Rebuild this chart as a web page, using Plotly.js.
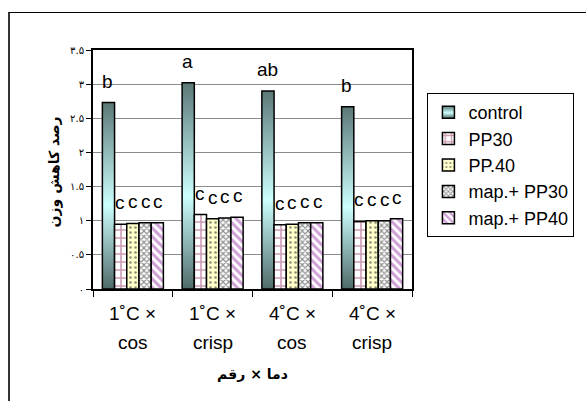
<!DOCTYPE html>
<html><head><meta charset="utf-8">
<script src="https://cdn.plot.ly/plotly-3.0.1.min.js"></script>
<style>
html,body{margin:0;padding:0;background:#fff;}
#wrap{position:relative;width:586px;height:401px;}
#chart{width:586px;height:401px;}
#frame{position:absolute;left:8px;top:12px;width:600px;height:420px;border-top:1px solid #000;border-left:2px solid #333;pointer-events:none;}
</style></head><body>
<div id="wrap"><div id="chart"></div><div id="frame"></div></div>
<script>
// ---- data ----
const categories = ['1˚C × cos', '1˚C × crisp', '4˚C × cos', '4˚C × crisp'];
const tickLine1 = ['1˚C ×', '1˚C ×', '4˚C ×', '4˚C ×'];
const tickLine2 = ['cos', 'crisp', 'cos', 'crisp'];
const seriesNames = ['control', 'PP30', 'PP.40', 'map.+ PP30', 'map.+ PP40'];
const control   = [2.73, 3.02, 2.90, 2.67];
const pp30      = [0.95, 1.09, 0.94, 0.99];
const pp40      = [0.96, 1.03, 0.95, 1.00];
const mapPP30   = [0.97, 1.04, 0.97, 1.00];
const mapPP40   = [0.97, 1.05, 0.97, 1.03];
const lettersControl = ['b', 'a', 'ab', 'b'];
const lettersOther   = ['c', 'c', 'c', 'c'];
const yTickVals = [0, 0.5, 1, 1.5, 2, 2.5, 3, 3.5];
const yTickText = ['۰', '۰.۵', '۱', '۱.۵', '۲', '۲.۵', '۳', '۳.۵'];
const xTitle = 'دما × رقم';
const yTitle = 'رصد كاهش وزن';

const values = [control, pp30, pp40, mapPP30, mapPP40];
const letters = [lettersControl, lettersOther, lettersOther, lettersOther, lettersOther];

const styles = [
  {color: '#9fcfcf', pattern: {shape: ''}},
  {color: '#ffffff', pattern: {shape: '+', fgcolor: '#993366', bgcolor: '#ffffff', size: 8, solidity: 0.35, fillmode: 'overlay'}},
  {color: '#ffffcc', pattern: {shape: '.', fgcolor: '#222222', bgcolor: '#ffffcc', size: 5, solidity: 0.22, fillmode: 'overlay'}},
  {color: '#ffffff', pattern: {shape: 'x', fgcolor: '#222222', bgcolor: '#ffffff', size: 4, solidity: 0.5, fillmode: 'overlay'}},
  {color: '#ffffff', pattern: {shape: '\\', fgcolor: '#a040b0', bgcolor: '#ffffff', size: 6, solidity: 0.5, fillmode: 'overlay'}}
];

const traces = values.map((v, i) => ({
  type: 'bar', name: seriesNames[i], x: categories, y: v,
  marker: {color: styles[i].color, pattern: styles[i].pattern, line: {color: '#000', width: 1.5}},
  hoverinfo: 'skip'
}));

const L = 93, R = 424, T = 50, B = 289;
const W = 586, H = 401;
const plotW = R - L, plotH = B - T;
const bargap = 0.235;
const barPx = (plotW / categories.length) * (1 - bargap) / values.length;
const txtFont = {family: 'Arial, Liberation Sans', size: 19, color: '#000'};

const annotations = [];
values.forEach((v, i) => {
  v.forEach((val, j) => {
    annotations.push({x: categories[j], y: val, xref: 'x', yref: 'y', text: letters[i][j],
      showarrow: false, xanchor: 'center', yanchor: 'bottom', xshift: (i - 2) * barPx, yshift: 9, font: txtFont});
  });
});
categories.forEach((c, j) => {
  annotations.push({x: c, y: (B - 313) / plotH, xref: 'x', yref: 'paper', text: tickLine1[j], showarrow: false,
    xanchor: 'center', yanchor: 'middle', font: txtFont});
  annotations.push({x: c, y: (B - 342) / plotH, xref: 'x', yref: 'paper', text: tickLine2[j], showarrow: false,
    xanchor: 'center', yanchor: 'middle', font: txtFont});
});
annotations.push({x: (53 - L) / plotW, y: (B - 172) / plotH, xref: 'paper', yref: 'paper', text: yTitle, textangle: -90,
  showarrow: false, xanchor: 'center', yanchor: 'middle',
  font: {family: 'DejaVu Sans', size: 14, color: '#000', weight: 'bold'}});

const layout = {
  width: W, height: H,
  margin: {l: L, r: W - R, t: T, b: H - B, pad: 0},
  paper_bgcolor: '#fff', plot_bgcolor: '#fff',
  barmode: 'group', bargap: bargap, bargroupgap: 0,
  showlegend: true,
  legend: {x: (440 - L) / plotW, xanchor: 'left', y: (B - 93) / plotH, yanchor: 'top',
    bordercolor: '#000', borderwidth: 1, bgcolor: '#fff',
    font: {family: 'Arial, Liberation Sans', size: 18, color: '#000'}, itemwidth: 30, tracegroupgap: 0},
  xaxis: {type: 'category', showticklabels: false, ticks: 'outside', ticklen: 6, tickwidth: 1, tickcolor: '#000',
    tickson: 'boundaries', showline: true, linecolor: '#000', linewidth: 2, mirror: true, showgrid: false,
    title: {text: xTitle, font: {family: 'DejaVu Sans', size: 14, color: '#000', weight: 'bold'}, standoff: 79}},
  yaxis: {range: [0, 3.5], tickvals: yTickVals, ticktext: yTickText, ticks: 'outside', ticklen: 5, tickwidth: 1,
    tickcolor: '#000', showline: true, linecolor: '#000', linewidth: 2, mirror: true,
    showgrid: true, gridcolor: '#8c8c8c', gridwidth: 1, zeroline: false,
    tickfont: {family: 'DejaVu Sans', size: 10, color: '#000'}},
  annotations: annotations
};

Plotly.newPlot('chart', traces, layout, {displayModeBar: false, staticPlot: true}).then(() => {
  const svg = document.querySelector('#chart .main-svg');
  const ns = 'http://www.w3.org/2000/svg';
  let defs = svg.querySelector('defs');
  const grad = document.createElementNS(ns, 'linearGradient');
  grad.setAttribute('id', 'ctrlGrad');
  grad.setAttribute('x1', '0'); grad.setAttribute('y1', '0'); grad.setAttribute('x2', '0'); grad.setAttribute('y2', '1');
  [['0', '#5a7876'], ['0.55', '#ccffff'], ['1', '#4f6b69']].forEach(s => {
    const st = document.createElementNS(ns, 'stop');
    st.setAttribute('offset', s[0]); st.setAttribute('stop-color', s[1]);
    grad.appendChild(st);
  });
  defs.appendChild(grad);
  const barTraces = document.querySelectorAll('#chart .barlayer .trace');
  if (barTraces[0]) barTraces[0].querySelectorAll('path').forEach(p => { p.style.fill = 'url(#ctrlGrad)'; });
  const legTraces = document.querySelectorAll('#chart .legend .traces');
  if (legTraces[0]) legTraces[0].querySelectorAll('.legendpoints path').forEach(p => { p.style.fill = 'url(#ctrlGrad)'; });
});
</script>
</body></html>
